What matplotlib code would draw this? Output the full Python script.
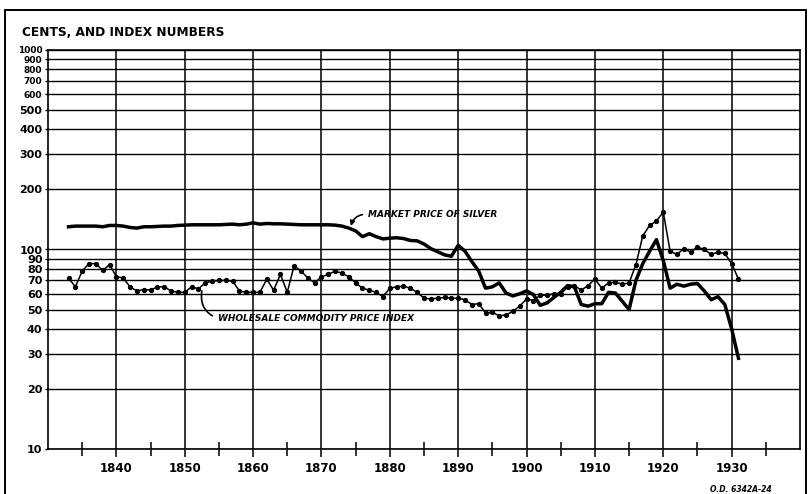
import matplotlib
matplotlib.use("Agg")
import matplotlib.pyplot as plt
from matplotlib.patches import Rectangle

# market price of silver, cents per ounce
silver_years = list(range(1833, 1932))
silver = [130, 131, 131, 131, 131, 130, 132, 132, 131, 129,
          128, 130, 130, 130.5, 131, 131, 132, 132.5, 133, 133,
          133, 133, 133, 133.5, 134, 133, 134, 136, 134, 135,
          134.5, 134.5, 134, 133.5, 133, 133, 133, 133, 133, 132.5,
          131, 128, 124, 116, 120, 116, 113, 114, 114.5, 113.5,
          111, 110.5, 106.5, 101, 97.5, 94, 92.5, 105, 98, 87,
          78, 64, 65, 68, 60.5, 58.5, 60, 62, 59.5, 52.5,
          54, 57.5, 61, 66, 65, 53, 52, 53.5, 53.5, 61,
          60.5, 55, 50, 70, 85, 98, 112, 88, 64, 67,
          65.5, 67, 67.5, 62, 56, 58, 53, 40, 28.5]

# wholesale commodity price index
wholesale_years = list(range(1833, 1932))
wholesale = [72, 65, 78, 85, 85, 78.5, 84, 73, 72, 65,
             62, 63, 62.6, 65, 65, 62, 61, 61, 65, 63.5,
             68, 69.5, 70, 70, 69.5, 62, 61, 61, 61, 71,
             62.5, 75, 61, 83, 78, 72, 68, 73, 75, 78,
             76, 73, 68, 64, 62.5, 61, 58, 64, 65, 65.5,
             64, 61, 57, 56.5, 57, 57.5, 57, 57, 56, 53,
             53.5, 48, 48.5, 46.5, 47, 49, 52, 56.5, 55.5, 59,
             59, 60, 60, 65, 66, 62.5, 66, 71, 64, 68,
             68.5, 67, 68, 84, 117, 132, 139, 154, 98, 94.5,
             101, 97, 103, 100, 94.5, 97, 95.5, 85, 71]

ytick_vals = [10, 20, 30, 40, 50, 60, 70, 80, 90, 100,
              200, 300, 400, 500, 600, 700, 800, 900, 1000]
decades = list(range(1840, 1940, 10))
halves = list(range(1835, 1940, 10))

fnt = 'DejaVu Sans'

fig = plt.figure(figsize=(8.09, 4.94), dpi=100)
W, H = 809, 494
ax = fig.add_axes([48 / W, 1 - 449 / H, 752 / W, 399 / H])

ax.set_yscale('log')
ax.set_xlim(1830, 1940)
ax.set_ylim(10, 1000)

# grid
for v in ytick_vals:
    ax.axhline(v, color='black', lw=1.0, zorder=1)
for d in decades:
    ax.axvline(d, color='black', lw=1.1, zorder=1)

ax.plot(silver_years, silver, color='black', lw=2.5, solid_joinstyle='round', zorder=3)
ax.plot(wholesale_years, wholesale, color='black', lw=1.1, marker='o', ms=2.8, zorder=3)

ax.set_yticks(ytick_vals)
ax.set_yticks([], minor=True)
ax.set_yticklabels([str(v) for v in ytick_vals])
for lab, v in zip(ax.get_yticklabels(), ytick_vals):
    lab.set_fontweight('bold')
    lab.set_family(fnt)
    lab.set_fontsize(6.5 if v >= 600 else 8)
ax.tick_params(axis='y', length=2, width=1, pad=2)

ax.set_xticks(decades)
ax.set_xticklabels([str(d) for d in decades], fontweight='bold', fontsize=8.5, family=fnt)
ax.set_xticks(halves, minor=True)
ax.tick_params(axis='x', which='major', length=6, width=1.1, direction='out', pad=3)
ax.tick_params(axis='x', which='minor', length=10, width=1.1, direction='inout')

for s in ax.spines.values():
    s.set_linewidth(1.2)

# labels
ax.annotate('MARKET PRICE OF SILVER', xy=(1874.3, 131), xytext=(1876.8, 150),
            fontsize=6.5, fontweight='bold', style='italic', family=fnt,
            ha='left', va='center',
            arrowprops=dict(arrowstyle='-|>', lw=1.2, color='black', mutation_scale=7,
                            relpos=(0, 0.5), connectionstyle='arc3,rad=0.4',
                            shrinkA=2, shrinkB=0))
ax.annotate('WHOLESALE COMMODITY PRICE INDEX', xy=(1852.5, 62), xytext=(1854.8, 45.2),
            fontsize=6.5, fontweight='bold', style='italic', family=fnt,
            ha='left', va='center',
            arrowprops=dict(arrowstyle='-', lw=1.2, color='black',
                            relpos=(0, 0.5), connectionstyle='arc3,rad=-0.4',
                            shrinkA=2, shrinkB=0))

fig.text(22 / W, 1 - 33 / H, 'CENTS, AND INDEX NUMBERS', fontsize=8.7,
         fontweight='bold', family=fnt, ha='left', va='center')
fig.text(772 / W, 1 - 489 / H, 'O.D. 6342A-24', fontsize=5.5, fontweight='bold',
         style='italic', family=fnt, ha='right', va='center')

fig.patches.append(Rectangle((5 / W, -0.02), 801 / W, 1 - 10 / H + 0.02,
                             transform=fig.transFigure, fill=False,
                             edgecolor='black', lw=1.4))

fig.savefig('out.png', dpi=100)
